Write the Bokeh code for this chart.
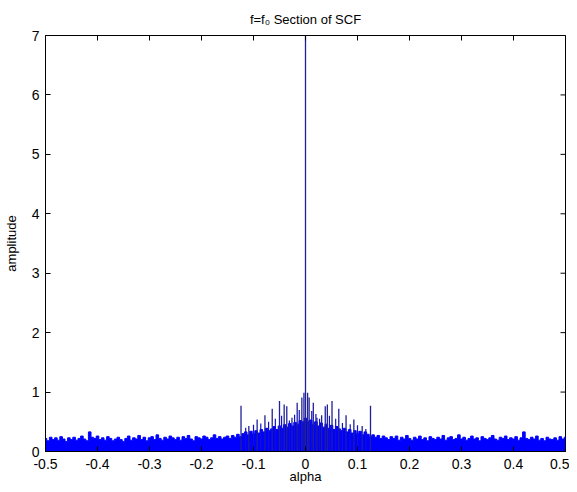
from bokeh.plotting import figure
from bokeh.models import FixedTicker, Range1d
from bokeh.embed import file_html
from bokeh.resources import INLINE

# ---- data ----
alpha_start = -0.5
alpha_step = 0.005
floor_amp = [
    0.22, 0.18, 0.24, 0.20, 0.23, 0.19, 0.25, 0.21, 0.17, 0.23,
    0.20, 0.24, 0.19, 0.22, 0.26, 0.21, 0.18, 0.33, 0.24, 0.22,
    0.26, 0.20, 0.23, 0.19, 0.25, 0.22, 0.18, 0.21, 0.24, 0.20,
    0.17, 0.22, 0.26, 0.19, 0.23, 0.21, 0.27, 0.20, 0.24, 0.18,
    0.23, 0.25, 0.20, 0.28, 0.22, 0.19, 0.24, 0.21, 0.26, 0.23,
    0.20, 0.24, 0.19, 0.25, 0.22, 0.27, 0.21, 0.18, 0.25, 0.23,
    0.21, 0.26, 0.24, 0.20, 0.23, 0.28, 0.22, 0.25, 0.21, 0.24,
    0.26, 0.22, 0.27, 0.24, 0.29, 0.25, 0.30, 0.33, 0.28, 0.34,
    0.30, 0.35, 0.31, 0.37, 0.33, 0.39, 0.35, 0.38, 0.42, 0.37,
    0.43, 0.39, 0.45, 0.41, 0.47, 0.43, 0.49, 0.46, 0.52, 0.50,
    0.56,
    0.51, 0.53, 0.46, 0.50, 0.43, 0.48, 0.41, 0.46, 0.39, 0.44,
    0.37, 0.42, 0.38, 0.35, 0.39, 0.33, 0.37, 0.31, 0.35, 0.30,
    0.34, 0.28, 0.33, 0.29, 0.25, 0.28, 0.24, 0.27, 0.22, 0.26,
    0.23, 0.20, 0.25, 0.22, 0.26, 0.19, 0.24, 0.21, 0.27, 0.22,
    0.19, 0.24, 0.21, 0.26, 0.20, 0.23, 0.18, 0.25, 0.22, 0.20,
    0.24, 0.21, 0.27, 0.19, 0.23, 0.25, 0.20, 0.22, 0.28, 0.21,
    0.24, 0.19, 0.22, 0.26, 0.21, 0.23, 0.18, 0.25, 0.22, 0.20,
    0.23, 0.27, 0.21, 0.19, 0.24, 0.22, 0.26, 0.20, 0.23, 0.21,
    0.25, 0.19, 0.23, 0.33, 0.22, 0.20, 0.24, 0.21, 0.26, 0.19,
    0.22, 0.18, 0.24, 0.21, 0.20, 0.23, 0.19, 0.25, 0.21, 0.24,
]
alpha = [round(alpha_start + i * alpha_step, 4) for i in range(len(floor_amp))]

spike_alpha = [-0.124, -0.109, -0.093, -0.078, -0.064, -0.050, -0.041, -0.036,
               -0.026, -0.016, -0.007, -0.003, 0.0, 0.004, 0.007, 0.015, 0.022,
               0.031, 0.038, 0.042, 0.051, 0.064, 0.078, 0.093, 0.109, 0.125]
spike_amp = [0.77, 0.43, 0.54, 0.61, 0.72, 0.85, 0.79, 0.76,
             0.57, 0.82, 0.91, 0.99, 7.0, 0.99, 0.91, 0.82, 0.57,
             0.61, 0.76, 0.79, 0.85, 0.72, 0.61, 0.54, 0.43, 0.77]

mid_alpha = [-0.115, -0.100, -0.086, -0.071, -0.058, -0.046, -0.031, -0.021, -0.012,
             0.012, 0.020, 0.027, 0.046, 0.058, 0.071, 0.086, 0.100, 0.116]
mid_amp = [0.40, 0.45, 0.47, 0.50, 0.55, 0.60, 0.52, 0.62, 0.70,
           0.68, 0.63, 0.55, 0.60, 0.55, 0.48, 0.46, 0.44, 0.38]

x_ticks = [-0.5, -0.4, -0.3, -0.2, -0.1, 0.0, 0.1, 0.2, 0.3, 0.4, 0.5]
x_tick_labels = ["-0.5", "-0.4", "-0.3", "-0.2", "-0.1", "0", "0.1", "0.2", "0.3", "0.4", "0.5"]
y_ticks = [0, 1, 2, 3, 4, 5, 6, 7]
y_tick_labels = ["0", "1", "2", "3", "4", "5", "6", "7"]

FONT = "Liberation Sans"
BLUE = "#0000ff"

p = figure(frame_width=520, frame_height=416, output_backend="svg", toolbar_location=None,
           x_range=Range1d(-0.5, 0.5), y_range=Range1d(0, 7),
           min_border_left=37, min_border_right=4, min_border_top=28, min_border_bottom=32,
           x_axis_label="alpha", y_axis_label="amplitude")
p.background_fill_color = "white"
p.border_fill_color = "white"
p.outline_line_color = "black"
p.outline_line_width = 1
p.grid.visible = False

p.title.text = "f=f\u2080 Section of SCF"
p.title.align = "center"
p.title.text_font = FONT
p.title.text_font_style = "normal"
p.title.text_font_size = "13px"
p.title.text_color = "black"
p.title.offset = 0
p.title.standoff = 18

p.varea_step(x=alpha, y1=0, y2=floor_amp, step_mode="center", fill_color=BLUE)
p.step(x=alpha, y=floor_amp, mode="center", line_color=BLUE, line_width=1)
p.segment(x0=mid_alpha, y0=0, x1=mid_alpha, y1=mid_amp, line_color="#1010d0", line_width=1.2)
p.segment(x0=spike_alpha, y0=0, x1=spike_alpha, y1=spike_amp, line_color="#20209a", line_width=1.3)

# inward ticks on the top and right edges of the box (half of each dash is clipped)
p.scatter(x=x_ticks, y=[7] * len(x_ticks), marker="dash", size=10, angle=1.5708,
          line_color="black", line_width=1)
p.scatter(x=[0.5] * len(y_ticks), y=y_ticks, marker="dash", size=10,
          line_color="black", line_width=1)

xt = FixedTicker(ticks=x_ticks)
yt = FixedTicker(ticks=y_ticks)

def style(ax, ticker, labels, ticks):
    ax.ticker = ticker
    ax.major_label_overrides = {t: l for t, l in zip(ticks, labels)}
    ax.major_tick_in = 5
    ax.major_tick_out = 0
    ax.minor_tick_line_color = None
    ax.axis_line_color = "black"
    ax.major_tick_line_color = "black"
    ax.major_label_text_font = FONT
    ax.major_label_text_font_size = "14px"
    ax.major_label_text_color = "black"
    ax.axis_label_text_font = FONT
    ax.axis_label_text_font_style = "normal"
    ax.axis_label_text_font_size = "13px"
    ax.axis_label_text_color = "black"

style(p.xaxis[0], xt, x_tick_labels, x_ticks)
style(p.yaxis[0], yt, y_tick_labels, y_ticks)
p.xaxis[0].major_label_standoff = 7
p.xaxis[0].axis_label_standoff = -3
p.yaxis[0].major_label_standoff = 6
p.yaxis[0].axis_label_standoff = 10

open("out.html", "w").write(file_html(p, INLINE))
